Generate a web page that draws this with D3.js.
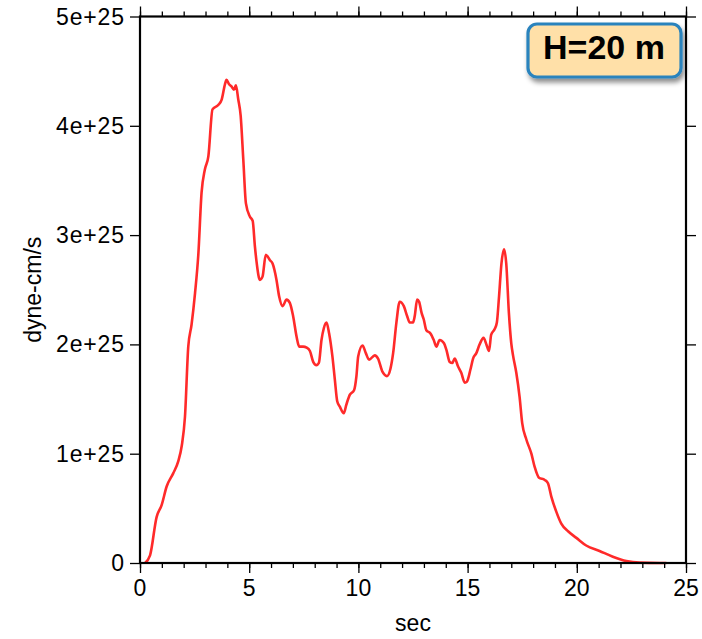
<!DOCTYPE html>
<html><head><meta charset="utf-8">
<script src="https://cdn.jsdelivr.net/npm/d3@7"></script>
<style>body{margin:0;background:#fff}svg{display:block}text{font-family:"Liberation Sans",Arial,Helvetica,sans-serif}</style>
</head><body><svg id="c" width="702" height="639"></svg>
<script>
const times = [0.23,0.46,0.76,0.99,1.22,1.52,1.75,1.91,2.06,2.21,2.36,2.52,2.67,2.82,2.97,3.13,3.32,3.58,3.74,3.89,3.96,4.08,4.19,4.30,4.39,4.50,4.61,4.73,4.85,5.03,5.16,5.26,5.34,5.49,5.61,5.76,5.95,6.07,6.25,6.37,6.53,6.71,6.86,7.01,7.17,7.29,7.47,7.63,7.78,7.93,8.08,8.19,8.31,8.42,8.54,8.66,8.81,8.92,9.03,9.15,9.33,9.45,9.61,9.80,9.91,9.99,10.19,10.34,10.49,10.75,10.90,11.10,11.31,11.47,11.59,11.74,11.89,12.08,12.23,12.35,12.50,12.58,12.69,12.78,12.89,12.99,13.11,13.30,13.45,13.57,13.72,13.92,14.03,14.18,14.30,14.41,14.56,14.71,14.87,14.97,15.13,15.25,15.40,15.55,15.73,15.86,15.98,16.08,16.24,16.34,16.44,16.55,16.67,16.77,16.89,17.00,17.08,17.23,17.38,17.50,17.69,17.92,18.07,18.27,18.53,18.68,18.83,19.06,19.29,19.60,19.98,20.43,21.04,21.65,22.27,22.87,23.8,24.1];
const moment = [0,0.07,0.42,0.53,0.70,0.82,0.93,1.07,1.34,1.98,2.18,2.47,2.82,3.39,3.60,3.72,4.15,4.19,4.24,4.38,4.42,4.38,4.36,4.33,4.37,4.24,4.09,3.69,3.29,3.17,3.13,2.90,2.75,2.59,2.62,2.82,2.77,2.74,2.59,2.44,2.35,2.41,2.38,2.26,2.07,1.98,1.98,1.97,1.94,1.84,1.81,1.83,2.04,2.15,2.20,2.10,1.89,1.68,1.48,1.43,1.37,1.45,1.54,1.58,1.71,1.89,1.99,1.92,1.86,1.90,1.87,1.75,1.71,1.78,1.92,2.20,2.39,2.35,2.26,2.20,2.20,2.26,2.41,2.39,2.29,2.23,2.13,2.10,2.04,1.98,2.04,2.01,1.95,1.84,1.83,1.87,1.80,1.74,1.65,1.66,1.77,1.87,1.92,2.00,2.06,2.00,1.94,2.09,2.14,2.20,2.44,2.74,2.87,2.74,2.29,2.01,1.90,1.74,1.52,1.28,1.13,1.00,0.88,0.78,0.76,0.73,0.61,0.47,0.36,0.29,0.23,0.16,0.11,0.058,0.018,0.003,0,0];
const xTicks = [0,5,10,15,20,25];
const yTicks = [0,1e25,2e25,3e25,4e25,5e25];
const yTickLabels = ["0","1e+25","2e+25","3e+25","4e+25","5e+25"];
const xLabel = "sec", yLabel = "dyne-cm/s", tag = "H=20 m";

const svg = d3.select("#c");
const L=140,R=686,T=16.5,B=563;
const x = d3.scaleLinear().domain([0,25]).range([L,R]);
const y = d3.scaleLinear().domain([0,5e25]).range([B,T]);
const data = times.map((t,i)=>({t, v: moment[i]*1e25}));

svg.append("path").datum(data)
  .attr("fill","none").attr("stroke","#ff2a2a").attr("stroke-width",2.6).attr("stroke-linejoin","round")
  .attr("d", d3.line().x(d=>x(d.t)).y(d=>y(d.v)).curve(d3.curveMonotoneX));

const minor = d3.range(0,26,1);
function styleAxis(g){ g.select(".domain").remove(); g.selectAll("line").attr("stroke","#000").attr("stroke-width",1.3); g.selectAll("text").remove(); }
svg.append("g").attr("transform",`translate(0,${B})`).call(d3.axisBottom(x).tickValues(minor).tickSize(5)).call(styleAxis);
svg.append("g").attr("transform",`translate(0,${B})`).call(d3.axisBottom(x).tickValues(xTicks).tickSize(10)).call(styleAxis);
svg.append("g").attr("transform",`translate(0,${T})`).call(d3.axisTop(x).tickValues(minor).tickSize(5)).call(styleAxis);
svg.append("g").attr("transform",`translate(0,${T})`).call(d3.axisTop(x).tickValues(xTicks).tickSize(10)).call(styleAxis);
svg.append("g").attr("transform",`translate(${L},0)`).call(d3.axisLeft(y).tickValues(yTicks).tickSize(10)).call(styleAxis);
svg.append("g").attr("transform",`translate(${R},0)`).call(d3.axisRight(y).tickValues(yTicks).tickSize(10)).call(styleAxis);

svg.append("rect").attr("x",L).attr("y",T).attr("width",R-L).attr("height",B-T)
  .attr("fill","none").attr("stroke","#000").attr("stroke-width",2.2);

svg.append("g").selectAll("text").data(xTicks).join("text")
  .attr("x",d=>x(d)).attr("y",596).attr("text-anchor","middle").attr("font-size",23).text(d=>d);
svg.append("g").selectAll("text").data(yTicks).join("text")
  .attr("x",124).attr("y",d=>y(d)+8).attr("text-anchor","end").attr("font-size",23).attr("textLength",d=>d===0?null:68).text((d,i)=>yTickLabels[i]);

svg.append("text").attr("x",(L+R)/2).attr("y",631).attr("text-anchor","middle").attr("font-size",23).text(xLabel);
svg.append("text").attr("transform",`translate(41,${(T+B)/2}) rotate(-90)`).attr("text-anchor","middle").attr("font-size",23).text(yLabel);

const defs = svg.append("defs");
const f = defs.append("filter").attr("id","sh").attr("x","-20%").attr("y","-20%").attr("width","150%").attr("height","170%");
f.append("feDropShadow").attr("dx",2).attr("dy",4).attr("stdDeviation",2.5).attr("flood-color","#000").attr("flood-opacity",0.45);
svg.append("rect").attr("x",528).attr("y",24).attr("width",153).attr("height",53).attr("rx",9)
  .attr("fill","#ffe0a8").attr("stroke","#2a83bd").attr("stroke-width",3.2).attr("filter","url(#sh)");
svg.append("text").attr("x",604).attr("y",59).attr("text-anchor","middle").attr("font-size",34).attr("font-weight","bold").text(tag);
</script></body></html>
